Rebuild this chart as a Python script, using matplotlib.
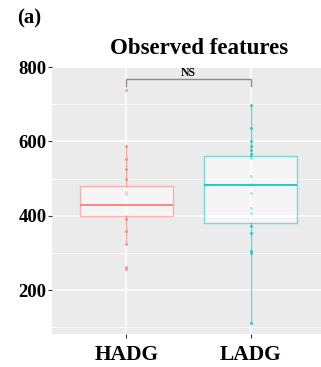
import matplotlib
matplotlib.use("Agg")
import matplotlib.pyplot as plt

# Groups and colours
groups = ["HADG", "LADG"]
colors = ["#F8766D", "#00BFC4"]

# Individual observations per group
hadg_values = [737, 589, 552, 525, 500, 464, 458, 391, 358, 324, 262, 256]
ladg_values = [698, 636, 600, 589, 576, 567, 555, 506, 485, 460, 421, 407,
               373, 354, 305, 301, 112]

# Box summaries (lower whisker, Q1, median, Q3, upper whisker)
whisker_low = [324, 112]
q1 = [400, 380]
medians = [429, 483]
q3 = [480, 562]
whisker_high = [589, 698]

# Significance annotation
sig_label = "NS"
sig_bar_y = 768
sig_tip_y = 750

y_ticks = [200, 400, 600, 800]
y_minor = [100, 300, 500, 700]

serif = ["Liberation Serif", "DejaVu Serif"]

fig = plt.figure(figsize=(3.21, 3.67), dpi=100)
ax = fig.add_axes([52 / 321, 33 / 367, 273 / 321, 267.3 / 367])
ax.set_facecolor("#EBEBEB")
for s in ax.spines.values():
    s.set_visible(False)

ax.set_xlim(0.4, 2.6)
ax.set_ylim(82, 801)

# grid
for v in y_ticks:
    ax.axhline(v, color="white", lw=1.1, zorder=0)
for v in y_minor:
    ax.axhline(v, color="white", lw=0.55, zorder=0)
for x in (1, 2):
    ax.axvline(x, color="white", lw=1.1, zorder=0)

# points
for i, vals in enumerate([hadg_values, ladg_values]):
    ax.scatter([i + 1] * len(vals), vals, s=5, color=colors[i], alpha=0.65,
               linewidths=0, zorder=2)

# boxes
stats = []
for i in range(2):
    stats.append(dict(whislo=whisker_low[i], q1=q1[i], med=medians[i],
                      q3=q3[i], whishi=whisker_high[i], fliers=[]))
for i in range(2):
    ax.bxp([stats[i]], positions=[i + 1], widths=0.75, patch_artist=True,
           showfliers=False, showcaps=False,
           boxprops=dict(facecolor=(1, 1, 1, 0.5), edgecolor=colors[i],
                         alpha=None, lw=1.0),
           whiskerprops=dict(color=colors[i], lw=1.0, alpha=0.6),
           medianprops=dict(color=colors[i], lw=1.4, alpha=0.85),
           zorder=3)
for p in ax.patches:
    ec = p.get_edgecolor()
    p.set_edgecolor((ec[0], ec[1], ec[2], 0.5))

# significance bracket
ax.plot([1, 1, 2, 2], [sig_tip_y, sig_bar_y, sig_bar_y, sig_tip_y],
        color="#8C8C8C", lw=1.0, zorder=4, clip_on=False)
ax.text(1.5, sig_bar_y + 1, sig_label, ha="center", va="bottom",
        fontsize=8.5, fontweight="bold", family=serif, zorder=5)

ax.set_xticks([1, 2])
ax.set_xticklabels(groups, fontsize=15.5, fontweight="bold", family=serif)
ax.set_yticks(y_ticks)
ax.set_yticklabels([str(v) for v in y_ticks], fontsize=13.5, fontweight="bold",
                   family=serif)
ax.tick_params(axis="both", length=3, width=0.8, color="#333333")
ax.tick_params(axis="y", pad=1)
ax.tick_params(axis="x", pad=5)

fig.text(199 / 321, 1 - 48 / 367, "Observed features", ha="center",
         va="center", fontsize=16.5, fontweight="bold", family=serif)
fig.text(17 / 321, 1 - 18 / 367, "(a)", ha="left", va="center",
         fontsize=15, fontweight="bold", family=serif)

fig.savefig("out.png", dpi=100)
